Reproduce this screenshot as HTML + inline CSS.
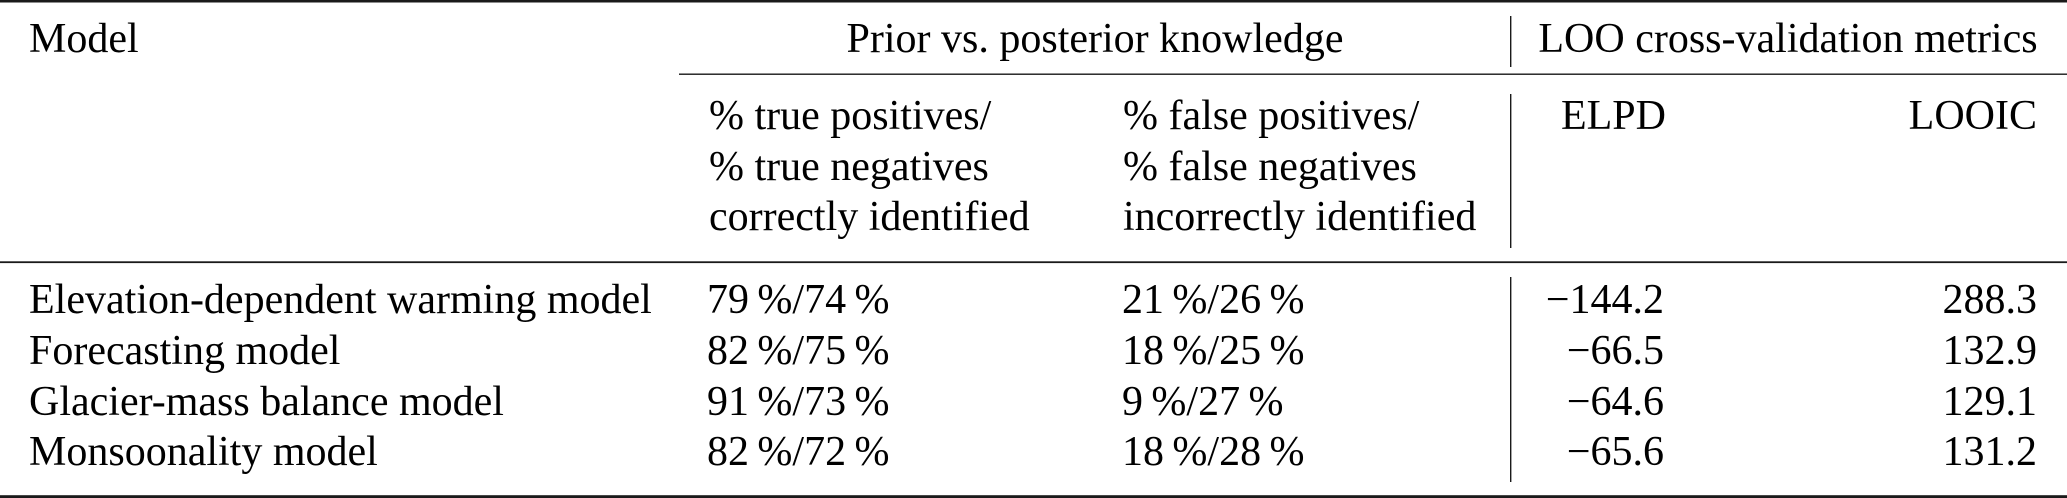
<!DOCTYPE html>
<html>
<head>
<meta charset="utf-8">
<style>
  html, body { margin: 0; padding: 0; background: #fff; }
  svg { display: block; }
  text { font-family: "Liberation Serif", "Times New Roman", serif; font-size: 42px; fill: #000; }
</style>
</head>
<body>
<svg width="2067" height="498" viewBox="0 0 2067 498" xmlns="http://www.w3.org/2000/svg">
  <!-- rules -->
  <rect x="0" y="0" width="2067" height="2.5" fill="#1a1a1a"/>
  <rect x="679" y="73.5" width="1388" height="1.4" fill="#1a1a1a"/>
  <rect x="0" y="261.3" width="2067" height="1.8" fill="#1a1a1a"/>
  <rect x="0" y="495.2" width="2067" height="2.8" fill="#1a1a1a"/>
  <!-- vertical lines -->
  <rect x="1510" y="16" width="1.4" height="51" fill="#1a1a1a"/>
  <rect x="1510" y="94" width="1.4" height="154" fill="#1a1a1a"/>
  <rect x="1510" y="277" width="1.4" height="205" fill="#1a1a1a"/>

  <!-- header row 1 -->
  <text x="29" y="52">Model</text>
  <text x="1095" y="52" text-anchor="middle">Prior vs. posterior knowledge</text>
  <text x="1788" y="52" text-anchor="middle">LOO cross-validation metrics</text>

  <!-- header row 2 -->
  <text x="709" y="129">% true positives/</text>
  <text x="709" y="180">% true negatives</text>
  <text x="709" y="230">correctly identified</text>
  <text x="1123" y="129">% false positives/</text>
  <text x="1123" y="180">% false negatives</text>
  <text x="1123" y="230">incorrectly identified</text>
  <text x="1666" y="129" text-anchor="end">ELPD</text>
  <text x="2037" y="129" text-anchor="end">LOOIC</text>

  <!-- data rows -->
  <text x="29" y="313">Elevation-dependent warming model</text>
  <text x="707" y="313">79&#8201;%/74&#8201;%</text>
  <text x="1122" y="313">21&#8201;%/26&#8201;%</text>
  <text x="1664" y="313" text-anchor="end">&#8722;144.2</text>
  <text x="2037" y="313" text-anchor="end">288.3</text>

  <text x="29" y="364">Forecasting model</text>
  <text x="707" y="364">82&#8201;%/75&#8201;%</text>
  <text x="1122" y="364">18&#8201;%/25&#8201;%</text>
  <text x="1664" y="364" text-anchor="end">&#8722;66.5</text>
  <text x="2037" y="364" text-anchor="end">132.9</text>

  <text x="29" y="415">Glacier-mass balance model</text>
  <text x="707" y="415">91&#8201;%/73&#8201;%</text>
  <text x="1122" y="415">9&#8201;%/27&#8201;%</text>
  <text x="1664" y="415" text-anchor="end">&#8722;64.6</text>
  <text x="2037" y="415" text-anchor="end">129.1</text>

  <text x="29" y="465">Monsoonality model</text>
  <text x="707" y="465">82&#8201;%/72&#8201;%</text>
  <text x="1122" y="465">18&#8201;%/28&#8201;%</text>
  <text x="1664" y="465" text-anchor="end">&#8722;65.6</text>
  <text x="2037" y="465" text-anchor="end">131.2</text>
</svg>
</body>
</html>
